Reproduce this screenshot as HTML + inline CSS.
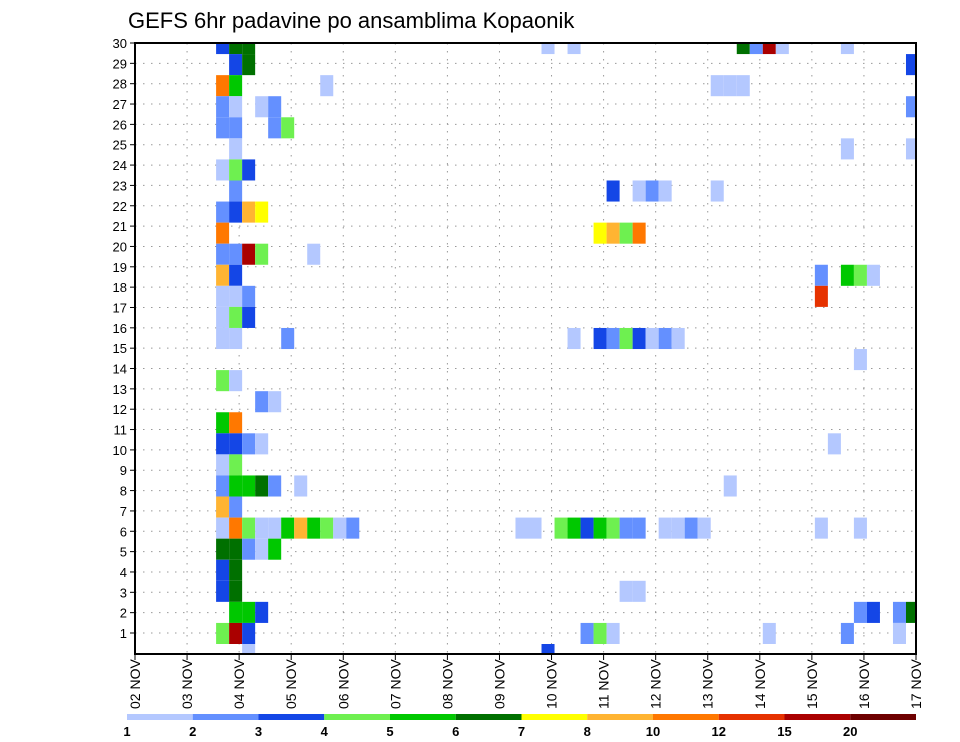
<!DOCTYPE html>
<html><head><meta charset="utf-8">
<style>
body{margin:0;background:#fff;}
svg{display:block;font-family:"Liberation Sans",sans-serif;}
</style></head>
<body>
<svg id="chart" width="960" height="742" viewBox="0 0 960 742">
<text x="128" y="28" font-size="22" fill="#000">GEFS 6hr padavine po ansamblima Kopaonik</text>
<g id="grid"></g>
<g id="cells"></g>
<g id="axes"></g>
<g id="cbar"></g>
</svg>
<script>
// ---- data ----
const memberTicks = [1,2,3,4,5,6,7,8,9,10,11,12,13,14,15,16,17,18,19,20,21,22,23,24,25,26,27,28,29,30];
const dayLabels = ["02","03","04","05","06","07","08","09","10","11","12","13","14","15","16","17"];
const levelLabels = ["1","2","3","4","5","6","7","8","10","12","15","20"];
const levelColors = ["#b4c8ff","#6490ff","#1446e6","#6ef050","#00c800","#007000","#ffff00","#ffb432","#ff7800","#e63200","#aa0000","#6e0000"];
// cells: [member row (30 = top), 6-hour step index from 02 NOV, colour level 1..12]
const cells = [
[30,6,3],[30,7,6],[30,8,6],[30,31,1],[30,33,1],[30,46,6],[30,47,2],[30,48,11],[30,49,1],[30,54,1],
[29,7,3],[29,8,6],[29,59,3],
[28,6,9],[28,7,5],[28,14,1],[28,44,1],[28,45,1],[28,46,1],
[27,6,2],[27,7,1],[27,9,1],[27,10,2],[27,59,2],
[26,6,2],[26,7,2],[26,10,2],[26,11,4],
[25,7,1],[25,54,1],[25,59,1],
[24,6,1],[24,7,4],[24,8,3],
[23,7,2],[23,36,3],[23,38,1],[23,39,2],[23,40,1],[23,44,1],
[22,6,2],[22,7,3],[22,8,8],[22,9,7],
[21,6,9],[21,35,7],[21,36,8],[21,37,4],[21,38,9],
[20,6,2],[20,7,2],[20,8,11],[20,9,4],[20,13,1],
[19,6,8],[19,7,3],[19,52,2],[19,54,5],[19,55,4],[19,56,1],
[18,6,1],[18,7,1],[18,8,2],[18,52,10],
[17,6,1],[17,7,4],[17,8,3],
[16,6,1],[16,7,1],[16,11,2],[16,33,1],[16,35,3],[16,36,2],[16,37,4],[16,38,3],[16,39,1],[16,40,2],[16,41,1],
[15,55,1],
[14,6,4],[14,7,1],
[13,9,2],[13,10,1],
[12,6,5],[12,7,9],
[11,6,3],[11,7,3],[11,8,2],[11,9,1],[11,53,1],
[10,6,1],[10,7,4],
[9,6,2],[9,7,5],[9,8,5],[9,9,6],[9,10,2],[9,12,1],[9,45,1],
[8,6,8],[8,7,2],
[7,6,1],[7,7,9],[7,8,4],[7,9,1],[7,10,1],[7,11,5],[7,12,8],[7,13,5],[7,14,4],[7,15,1],[7,16,2],
[7,29,1],[7,30,1],[7,32,4],[7,33,5],[7,34,3],[7,35,5],[7,36,4],[7,37,2],[7,38,2],[7,40,1],[7,41,1],[7,42,2],[7,43,1],[7,52,1],[7,55,1],
[6,6,6],[6,7,6],[6,8,2],[6,9,1],[6,10,5],
[5,6,3],[5,7,6],
[4,6,3],[4,7,6],[4,37,1],[4,38,1],
[3,7,5],[3,8,5],[3,9,3],[3,55,2],[3,56,3],[3,58,2],[3,59,6],
[2,6,4],[2,7,11],[2,8,3],[2,34,2],[2,35,4],[2,36,1],[2,48,1],[2,54,2],[2,58,1],
[1,8,1],[1,31,3]
];

// ---- scales ----
const PL=135, PR=916, PT=43, PB=654;
const dayW=(PR-PL)/15;
function xDay(i){return PL+dayW*i;}
function xStep(s){return PL+3+dayW/4*s;}
function yTick(m){return 633-(m-1)*(633-43)/29;}
const rowH=(PB-PT)/29;
function yCellTop(m){return 33+rowH*(30-m);}
const NS="http://www.w3.org/2000/svg";
function mk(tag,attrs,parent){const e=document.createElementNS(NS,tag);for(const k in attrs)e.setAttribute(k,attrs[k]);parent.appendChild(e);return e;}

// grid
const grid=document.getElementById('grid');
memberTicks.forEach(m=>{
  const l=mk('line',{x1:PL,x2:PR,y1:yTick(m),y2:yTick(m),stroke:'#999','stroke-width':1,'stroke-dasharray':'1.5 6.5'},grid);
  
  
});
dayLabels.forEach((d,i)=>{
  const l=mk('line',{x1:xDay(i),x2:xDay(i),y1:PT,y2:PB,stroke:'#999','stroke-width':1,'stroke-dasharray':'1.5 6.5'},grid);
  
  
});

// cells
const cg=document.getElementById('cells');
cells.forEach(c=>{
  const m=c[0], s=c[1], lv=c[2];
  let x0=xStep(s), x1=xStep(s+1);
  let y0=yCellTop(m), y1=y0+rowH;
  x1=Math.min(x1,PR); y0=Math.max(y0,PT); y1=Math.min(y1,PB);
  if(x1<=x0||y1<=y0)return;
  const r=mk('rect',{x:x0,y:y0,width:x1-x0,height:y1-y0,fill:levelColors[lv-1]},cg);
  
  
});

// axes
const ax=document.getElementById('axes');
const fr=mk('rect',{x:PL,y:PT,width:PR-PL,height:PB-PT,fill:'none',stroke:'#000','stroke-width':2},ax);


memberTicks.forEach(m=>{
  const y=yTick(m);
  const t=mk('line',{x1:PL-5,x2:PL,y1:y,y2:y,stroke:'#000','stroke-width':1},ax);
  
  
  const tx=mk('text',{x:PL-8,y:y+5,'font-size':13,'text-anchor':'end',fill:'#000'},ax);
  tx.textContent=m;
  
  
});
dayLabels.forEach((d,i)=>{
  const x=xDay(i);
  const t=mk('line',{x1:x,x2:x,y1:PB,y2:PB+6,stroke:'#000','stroke-width':1},ax);
  
  
  const tx=mk('text',{x:0,y:0,'font-size':14,fill:'#000',transform:'translate('+(x+5)+','+(PB+55)+') rotate(-90)'},ax);
  tx.textContent=d+' NOV';
  
  
});

// colorbar
const cb=document.getElementById('cbar');
const CB0=127, CBW=65.75;
levelColors.forEach((col,i)=>{
  const w=(i===levelColors.length-1)?(PR-(CB0+CBW*i)):CBW;
  const r=mk('rect',{x:CB0+CBW*i,y:714,width:w,height:6,fill:col},cb);
  
  
});
levelLabels.forEach((lab,i)=>{
  const tx=mk('text',{x:CB0+CBW*i,y:736,'font-size':13,'font-weight':'bold','text-anchor':'middle',fill:'#000'},cb);
  tx.textContent=lab;
  
  
});
</script>
</body></html>
